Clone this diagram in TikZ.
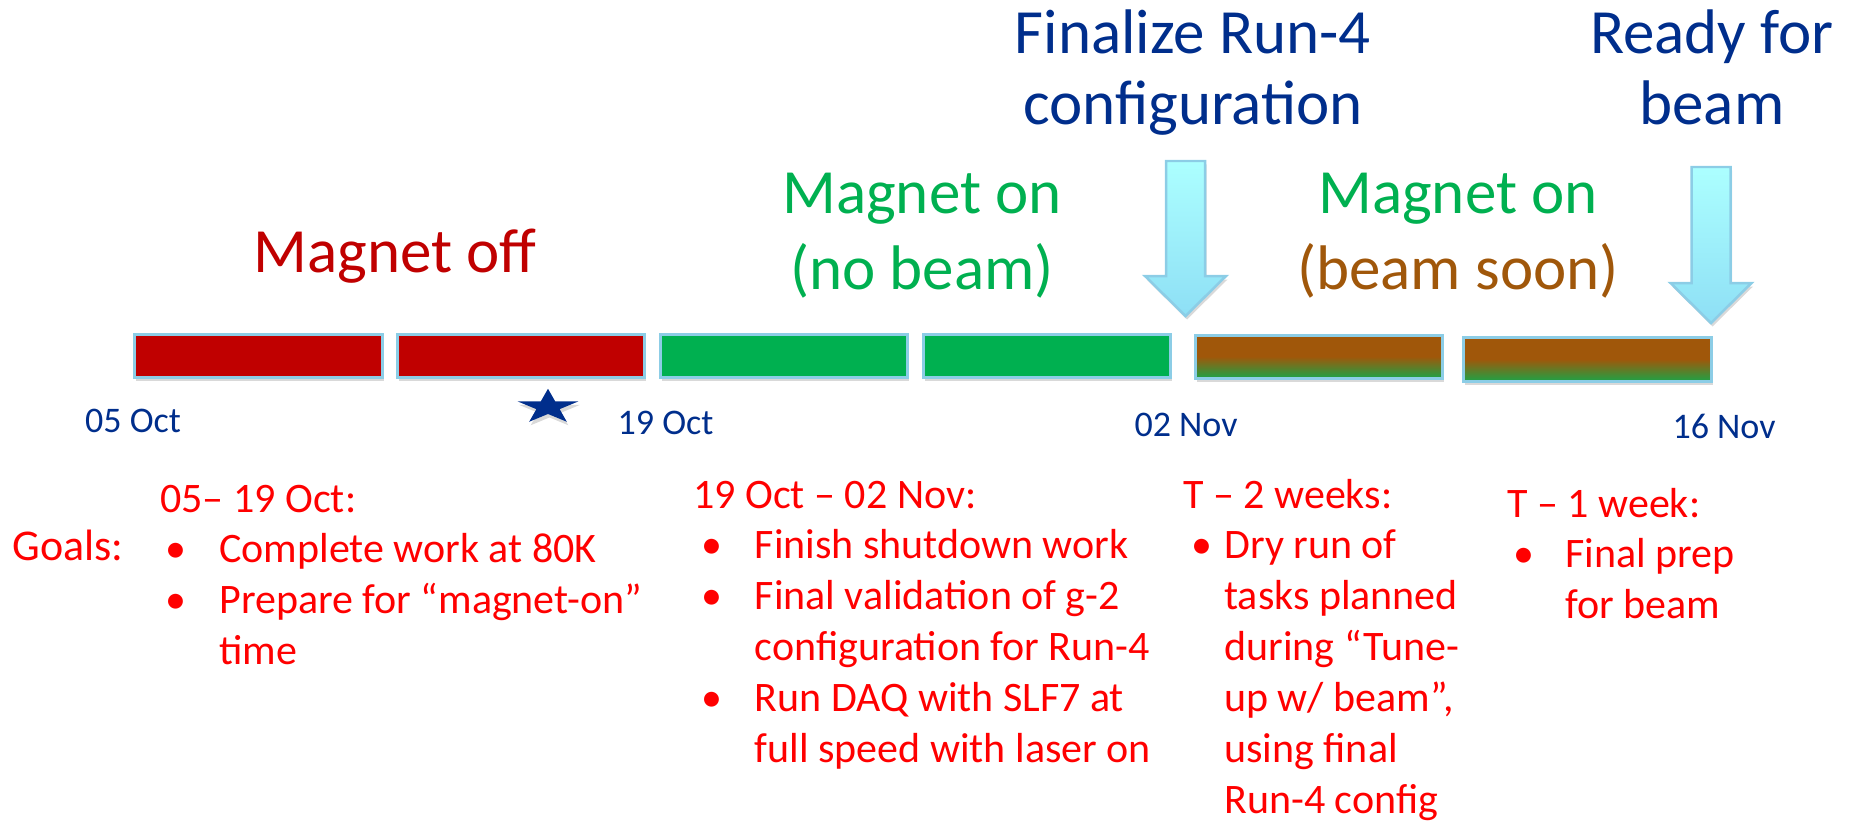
\documentclass[tikz,border=0pt]{standalone}
\usepackage{fontspec}
\setmainfont{Carlito}
\usetikzlibrary{shapes.geometric, shadows}

\definecolor{offred}{RGB}{192,0,0}
\definecolor{ongreen}{RGB}{0,176,80}
\definecolor{soonbrown}{RGB}{160,87,10}
\definecolor{soongreen}{RGB}{30,162,70}
\definecolor{edgeblue}{RGB}{140,205,230}
\definecolor{arrtop}{RGB}{172,255,255}
\definecolor{arrbot}{RGB}{142,223,245}
\definecolor{navy}{RGB}{0,46,140}
\definecolor{goalred}{RGB}{255,0,0}

\tikzset{
  softshadow/.style={drop shadow={opacity=0.3, shadow xshift=0.03cm, shadow yshift=-0.07cm}},
  bar/.style={draw=edgeblue, line width=0.06cm, softshadow},
  downarrow/.style={draw=edgeblue, line width=0.05cm, top color=arrtop, bottom color=arrbot, softshadow},
  bigtext/.style={anchor=base, inner sep=0, font=\fontsize{35.85}{43.25}\selectfont},
  datetext/.style={anchor=base, inner sep=0, text=navy, font=\fontsize{20.5}{24}\selectfont},
  goaltext/.style={anchor=base west, inner sep=0, text=goalred, font=\fontsize{23.9}{29.02}\selectfont},
}

\begin{document}
\begin{tikzpicture}[x=0.02cm, y=-0.02cm]
  \useasboundingbox (0,0) rectangle (1853,821);

  % Time line bars
  \draw[bar, fill=offred] (134,334) rectangle (382,377);
  \draw[bar, fill=offred] (397,334) rectangle (644,377);
  \draw[bar, fill=ongreen] (660,334) rectangle (907,377);
  \draw[bar, fill=ongreen] (923,334) rectangle (1170,377);
  \draw[bar, top color=soonbrown, bottom color=soongreen, middle color=soonbrown] (1195,335) rectangle (1442,378);
  \draw[bar, top color=soonbrown, bottom color=soongreen, middle color=soonbrown] (1463,337) rectangle (1711,381);

  % Milestone arrows (centre, top, start of head)
  \foreach \ax/\at/\ah in {1185.5/161/276, 1711/167/283} {
    \draw[downarrow] (\ax-19.5,\at) -- (\ax+19.5,\at) -- (\ax+19.5,\ah) -- (\ax+40.5,\ah)
      -- (\ax,\ah+40) -- (\ax-40.5,\ah) -- (\ax-19.5,\ah) -- cycle;
  }

  % Star under the bars
  \begin{scope}[shift={(548,407)}]
    \node[star, star points=5, star point ratio=2.618, fill=navy, inner sep=0,
      minimum size=1.28cm, yscale=0.57, softshadow] (star) at (0,0) {};
  \end{scope}

  % Dates
  \node[datetext] (oct05) at (133,432) {05 Oct};
  \node[datetext] (oct19) at (665.5,434) {19 Oct};
  \node[datetext] (nov02) at (1186,436) {02 Nov};
  \node[datetext] (nov16) at (1724,438) {16 Nov};

  % Phase labels
  \node[bigtext, text=offred] (off) at (395,272) {Magnet off};
  \node[bigtext, text=ongreen] (nobeam) at (922,214)
    {\begin{tabular}[t]{@{}c@{}}Magnet on\\(no beam)\end{tabular}};
  \node[bigtext, text=ongreen] (soon) at (1458,214)
    {\begin{tabular}[t]{@{}c@{}}Magnet on\\\textcolor{soonbrown}{(beam soon)}\end{tabular}};

  % Milestone labels
  \node[bigtext, text=navy, font=\fontsize{35.85}{40.4}\selectfont] (final) at (1193,54)
    {\begin{tabular}[t]{@{}c@{}}Finalize Run-4\\configuration\end{tabular}};
  \node[bigtext, text=navy, font=\fontsize{35.85}{40.4}\selectfont] (ready) at (1712,54)
    {\begin{tabular}[t]{@{}c@{}}Ready for\\beam\end{tabular}};

  % Goals
  \node[goaltext, font=\fontsize{25}{30}\selectfont] (goals) at (12,560) {Goals:};
  \node[goaltext] (goalA) at (160,512) {\begin{tabular}[t]{@{\hspace{0.1cm}}p{1.08cm}@{}l@{}}
    \multicolumn{2}{@{}l@{}}{05– 19 Oct:}\\
    \textbullet & Complete work at 80K\\
    \textbullet & Prepare for “magnet-on”\\
    & time
  \end{tabular}};
  \node[goaltext] (goalB) at (693,508) {\begin{tabular}[t]{@{\hspace{0.16cm}}p{1.07cm}@{}l@{}}
    \multicolumn{2}{@{}l@{}}{19 Oct – 02 Nov:}\\
    \textbullet & Finish shutdown work\\
    \textbullet & Final validation of g-2\\
    & configuration for Run-4\\
    \textbullet & Run DAQ with SLF7 at\\
    & full speed with laser on
  \end{tabular}};
  \node[goaltext] (goalC) at (1183,508) {\begin{tabular}[t]{@{\hspace{0.16cm}}p{0.66cm}@{}l@{}}
    \multicolumn{2}{@{}l@{}}{T – 2 weeks:}\\
    \textbullet & Dry run of\\
    & tasks planned\\
    & during “Tune-\\
    & up w/ beam”,\\
    & using final\\
    & Run-4 config
  \end{tabular}};
  \node[goaltext] (goalD) at (1507,517) {\begin{tabular}[t]{@{\hspace{0.12cm}}p{1.04cm}@{}l@{}}
    \multicolumn{2}{@{}l@{}}{T – 1 week:}\\
    \textbullet & Final prep\\
    & for beam
  \end{tabular}};
\end{tikzpicture}
\end{document}
